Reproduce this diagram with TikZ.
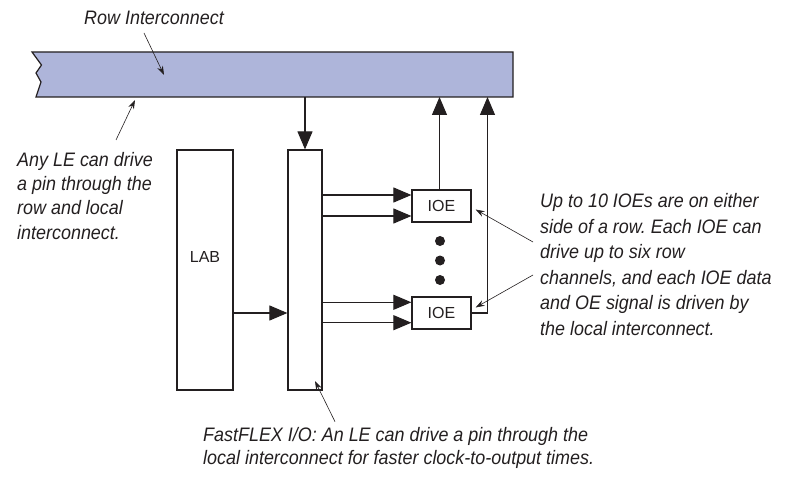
\documentclass[tikz,border=0pt]{standalone}
\usepackage{fontspec}
\setmainfont{Liberation Sans}
\newfontfamily\notefont[FakeStretch=0.92]{Liberation Sans}
\usetikzlibrary{arrows.meta,calc}
\definecolor{barblue}{RGB}{174,181,218}
\definecolor{ink}{RGB}{35,31,32}
\frenchspacing
\begin{document}
\begin{tikzpicture}[x=1pt,y=-1pt,
  box/.style={draw=ink,line width=1.2pt,inner sep=0pt,fill=white},
  big/.style={-{Triangle[length=18pt,width=15pt]},draw=ink,line width=1.1pt},
  note/.style={align=left,anchor=north west,inner sep=0pt,text=ink},
  pointer/.style={-{Stealth[length=9pt,width=6pt]},draw=ink,line width=0.6pt},
  lbl/.style={font=\fontsize{16}{16}\selectfont,text=ink,inner sep=0pt},
]
\useasboundingbox (0,0) rectangle (787,481);

% row interconnect bar
\filldraw[fill=barblue,draw=ink,line width=1.2pt,line join=miter]
  (32,52) -- (513,52) -- (513,97) -- (36,97) -- (41,82) -- (36,73) -- (41.5,65) -- cycle;
\coordinate (barbot) at (0,97);

% boxes
\node[box,minimum width=56pt,minimum height=240pt] (lab) at (205,270) {};
\node[lbl] (labtxt) at ($(lab.center)+(0,-13)$) {LAB};
\node[box,minimum width=59pt,minimum height=32pt,font=\fontsize{16}{16}\selectfont,text=ink] (ioe1) at (441.5,206) {IOE};
\node[box,minimum width=59pt,minimum height=32pt,font=\fontsize{16}{16}\selectfont,text=ink] (ioe2) at (441.5,313) {IOE};
\node[box,minimum width=34pt,minimum height=240pt] (fio) at (305,270) {};

% dots
\fill[ink] (440,241) circle (5pt);
\fill[ink] (440,260.5) circle (5pt);
\fill[ink] (440,280) circle (5pt);

% row coordinates
\coordinate (rlab) at (0,313);
\coordinate (ra) at (0,195);
\coordinate (rb) at (0,216);
\coordinate (rc) at (0,302.3);
\coordinate (rd) at (0,322.7);
\coordinate (rtop) at (487.5,97);

% connectors
\draw[big] (fio.north |- barbot) -- (fio.north);
\draw[big] (lab.east |- rlab) -- (fio.west |- rlab);
\draw[big] (fio.east |- ra) -- (ioe1.west |- ra);
\draw[big] (fio.east |- rb) -- (ioe1.west |- rb);
\draw[big] (fio.east |- rc) -- (ioe2.west |- rc);
\draw[big] (fio.east |- rd) -- (ioe2.west |- rd);
\draw[big] ($(ioe1.north)+(-2,0)$) -- ($(ioe1.north |- barbot)+(-2,0)$);
\draw[big] (ioe2.east) -| (rtop);

% texts
\node[anchor=base west,inner sep=0pt,text=ink,font=\fontsize{19.5}{24}\notefont\itshape] (rowtxt) at (84,25) {Row Interconnect};
\node[note,font=\fontsize{19.5}{24.4}\notefont\itshape] (anyle) at (17,151.8) {Any LE can drive\\a pin through the\\row and local\\interconnect.};
\node[note,font=\fontsize{19.5}{25.6}\notefont\itshape] (upto) at (540,193.1) {Up to 10 IOEs are on either\\side of a row. Each IOE can\\drive up to six row\\channels, and each IOE data\\and OE signal is driven by\\the local interconnect.};
\node[note,font=\fontsize{19.5}{23.3}\notefont\itshape] (fast) at (203,426.8) {FastFLEX I/O: An LE can drive a pin through the\\local interconnect for faster clock-to-output times.};

% pointers
\coordinate (p1s) at (144,33);
\coordinate (p1e) at (164,75);
\draw[pointer] (p1s) -- (p1e);
\coordinate (p2s) at (116,140);
\coordinate (p2e) at (135,100);
\draw[pointer] (p2s) -- (p2e);
\coordinate (p3s) at (533,242);
\draw[pointer] (p3s) -- ($(ioe1.east)+(4,3.5)$);
\coordinate (p4s) at (533,275);
\draw[pointer] (p4s) -- ($(ioe2.east)+(4,-5.5)$);
\coordinate (p5s) at (335,421.7);
\coordinate (p5e) at (315,381);
\draw[pointer] (p5s) -- (p5e);
\end{tikzpicture}
\end{document}
